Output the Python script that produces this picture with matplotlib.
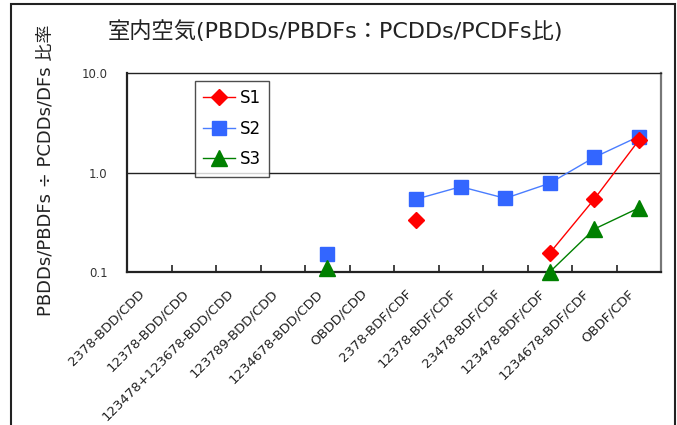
import numpy as np
import matplotlib
matplotlib.use("Agg")
import matplotlib.pyplot as plt
from matplotlib.patches import Rectangle
from matplotlib.transforms import ScaledTranslation
from matplotlib.ticker import FixedLocator, NullFormatter, FixedFormatter

plt.rcParams['font.family'] = ['DejaVu Sans', 'Noto Sans CJK JP']

categories = ["2378-BDD/CDD", "12378-BDD/CDD", "123478+123678-BDD/CDD",
              "123789-BDD/CDD", "1234678-BDD/CDD", "OBDD/CDD",
              "2378-BDF/CDF", "12378-BDF/CDF", "23478-BDF/CDF",
              "123478-BDF/CDF", "1234678-BDF/CDF", "OBDF/CDF"]
nan = np.nan
s1 = [nan, nan, nan, nan, nan, nan, 0.33, nan, nan, 0.155, 0.54, 2.1]
s2 = [nan, nan, nan, nan, 0.151, nan, 0.54, 0.72, 0.55, 0.78, 1.42, 2.3]
s3 = [nan, nan, nan, nan, 0.11, nan, nan, nan, nan, 0.10, 0.27, 0.44]
ytick_vals = [0.1, 1.0, 10.0]
ytick_labels = ["0.1", "1.0", "10.0"]
title = "室内空気(PBDDs/PBDFs：PCDDs/PCDFs比)"
ylabel = "PBDDs/PBDFs ÷ PCDDs/DFs 比率"

W, H = 677, 425
fig = plt.figure(figsize=(W / 100, H / 100), dpi=100)
ax = fig.add_axes([127 / W, 1 - 272 / H, (661 - 127) / W, (272 - 73) / H])

x = np.arange(len(categories))
ax.plot(x, s1, color='#ff0000', lw=1.0, marker='D', ms=8, mec='#ff0000', mfc='#ff0000', label='S1', clip_on=False, zorder=4)
ax.plot(x, s2, color='#4a7dff', lw=1.0, marker='s', ms=10, mec='#3366ff', mfc='#3366ff', label='S2', clip_on=False, zorder=3)
ax.plot(x, s3, color='#008000', lw=1.0, marker='^', ms=11.5, mec='#008000', mfc='#008000', label='S3', clip_on=False, zorder=5)

ax.set_yscale('log')
ax.set_ylim(0.1, 10)
ax.set_xlim(-0.5, len(categories) - 0.5)
ax.yaxis.set_major_locator(FixedLocator(ytick_vals))
ax.yaxis.set_major_formatter(FixedFormatter(ytick_labels))
ax.yaxis.set_minor_locator(FixedLocator([]))
ax.yaxis.set_minor_formatter(NullFormatter())
ax.tick_params(axis='y', which='major', length=0, pad=14, labelsize=8.5, labelcolor='#333333')
ax.axhline(1.0, color='#222222', lw=1.0, zorder=1)

ax.set_xticks(x)
ax.set_xticklabels(categories, rotation=45, ha='right', va='center', rotation_mode='anchor', fontsize=9.5, color='#222222')
ax.set_xticks(np.arange(0.5, len(categories) - 0.5, 1.0), minor=True)
ax.tick_params(axis='x', which='major', length=0, pad=14)
ax.tick_params(axis='x', which='minor', length=5, direction='in', width=1.2, color='#222222')
for lab in ax.get_xticklabels():
    lab.set_transform(lab.get_transform() + ScaledTranslation(-5 / 72, 0, fig.dpi_scale_trans))

for side in ['left', 'bottom']:
    ax.spines[side].set_linewidth(1.6)
    ax.spines[side].set_color('#222222')
ax.spines['top'].set_linewidth(1.0)
ax.spines['top'].set_color('#222222')
ax.spines['right'].set_linewidth(1.6)
ax.spines['right'].set_color('#777777')

leg = ax.legend(loc='upper left', bbox_to_anchor=((195 - 127) / 534, (272 - 81) / 199),
                fontsize=12, frameon=True, fancybox=False, edgecolor='#222222',
                handlelength=1.9, labelspacing=0.75, borderpad=0.5, handletextpad=0.3,
                borderaxespad=0)
leg.get_frame().set_linewidth(1.0)

fig.text(335 / W, 1 - 31 / H, title, ha='center', va='center', fontsize=16, color='#222222')
fig.text(46 / W, 1 - 170 / H, ylabel, ha='center', va='center', rotation=90, fontsize=13, color='#222222')

fig.patches.append(Rectangle((11 / W, -0.1), (675 - 11) / W, 1.1 - 4 / H, transform=fig.transFigure,
                             fill=False, edgecolor='#222222', lw=1.5))

fig.savefig('out.png', dpi=100)
